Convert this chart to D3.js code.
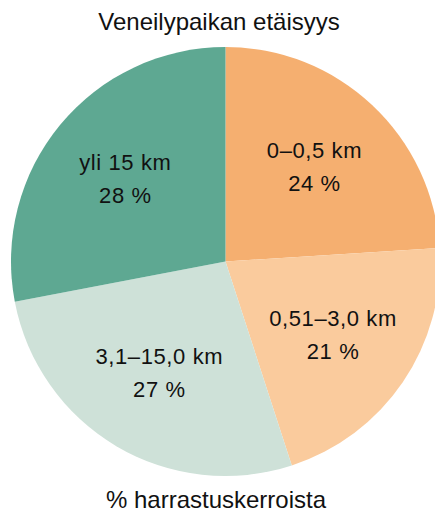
<!DOCTYPE html>
<html>
<head>
<meta charset="utf-8">
<script src="https://cdn.jsdelivr.net/npm/d3@7"></script>
<style>
  html, body { margin: 0; padding: 0; background: #fff; }
  svg { display: block; }
  text { font-family: "Liberation Sans", Arial, Helvetica, sans-serif; fill: #111; }
</style>
</head>
<body>
<svg id="chart" width="435" height="513"></svg>
<script>
const categories = ["0–0,5 km", "0,51–3,0 km", "3,1–15,0 km", "yli 15 km"];
const values = [24, 21, 27, 28];
const valueLabels = ["24 %", "21 %", "27 %", "28 %"];
const colors = ["#F5AF70", "#FACB9D", "#CEE1D8", "#5EA892"];
const title = "Veneilypaikan etäisyys";
const subtitle = "% harrastuskerroista";

const svg = d3.select("#chart");
const cx = 225.5, cy = 261.5, r = 214.5;

const data = categories.map((c, i) => ({ cat: c, value: values[i], label: valueLabels[i], color: colors[i] }));

const pie = d3.pie().value(d => d.value).sort(null);
const arc = d3.arc().innerRadius(0).outerRadius(r);
const labelArc = d3.arc().innerRadius(130).outerRadius(130);

const g = svg.append("g").attr("transform", `translate(${cx},${cy})`);
const arcs = pie(data);

g.selectAll("path").data(arcs).join("path")
  .attr("d", arc)
  .attr("fill", d => d.data.color);

const lab = g.selectAll("g.lab").data(arcs).join("g")
  .attr("class", "lab")
  .attr("transform", d => { const [x, y] = labelArc.centroid(d); return `translate(${x},${y})`; });

lab.append("text")
  .attr("text-anchor", "middle")
  .attr("y", -9)
  .style("font-size", "22px")
  .style("letter-spacing", "0.6px")
  .text(d => d.data.cat);

lab.append("text")
  .attr("text-anchor", "middle")
  .attr("y", 24)
  .style("font-size", "22px")
  .style("letter-spacing", "0.6px")
  .text(d => d.data.label);

svg.append("text")
  .attr("x", 219).attr("y", 30)
  .attr("text-anchor", "middle")
  .style("font-size", "24px")
  .text(title);

svg.append("text")
  .attr("x", 216).attr("y", 508)
  .attr("text-anchor", "middle")
  .style("font-size", "24px")
  .text(subtitle);
</script>
</body>
</html>
